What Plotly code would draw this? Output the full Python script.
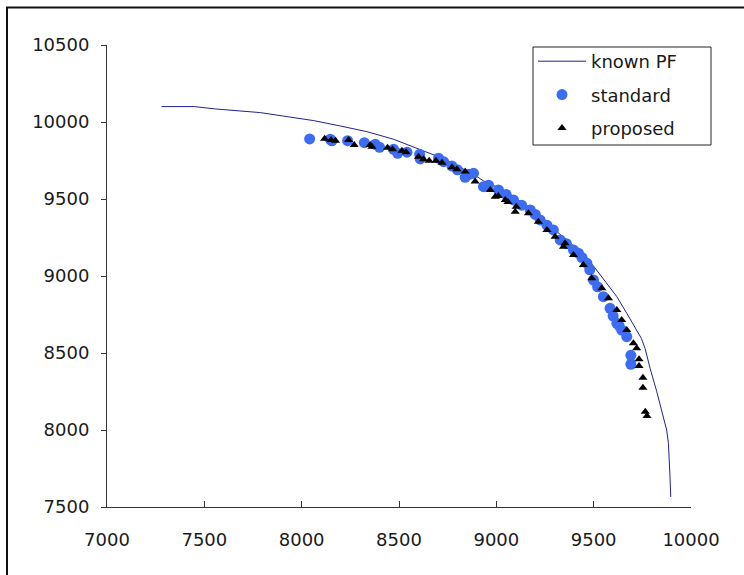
import plotly.graph_objects as go

# Known Pareto front (trade-off curve)
pf_x = [7280, 7450, 7554, 7650, 7788, 7925, 8062, 8199, 8336, 8472, 8609, 8746,
        8814, 8889, 8934, 9011, 9054, 9133, 9191, 9254, 9300, 9380, 9456, 9499,
        9567, 9619, 9670, 9721, 9745, 9764, 9790, 9824, 9858, 9875, 9884, 9889, 9892, 9896]
pf_y = [10100, 10100, 10085, 10075, 10061, 10035, 10009, 9974, 9937, 9888, 9823, 9753,
        9706, 9655, 9618, 9575, 9548, 9475, 9432, 9360, 9300, 9215, 9130, 9065,
        8955, 8866, 8758, 8649, 8595, 8530, 8400, 8250, 8086, 8000, 7914, 7805, 7700, 7565]

# Solutions found by the standard algorithm
std_x = [8041, 8147, 8155, 8236, 8322, 8378, 8400, 8472, 8493, 8541, 8606, 8609,
         8703, 8729, 8772, 8800, 8840, 8860, 8883, 8934, 8960, 9011, 9050, 9088,
         9130, 9174, 9200, 9225, 9260, 9293, 9328, 9360, 9396, 9422, 9440, 9465,
         9480, 9499, 9520, 9550, 9584, 9600, 9619, 9630, 9644, 9670, 9691, 9691]
std_y = [9890, 9888, 9878, 9879, 9866, 9855, 9836, 9823, 9797, 9804, 9790, 9760,
         9765, 9742, 9714, 9690, 9641, 9660, 9667, 9580, 9590, 9559, 9530, 9494,
         9460, 9429, 9400, 9364, 9330, 9299, 9234, 9210, 9169, 9148, 9120, 9083,
         9040, 8974, 8930, 8866, 8790, 8740, 8693, 8680, 8649, 8606, 8485, 8427]

# Solutions found by the proposed algorithm
prop_x = [8118, 8151, 8174, 8241, 8270, 8352, 8361, 8441, 8467, 8515, 8537, 8600,
          8626, 8655, 8690, 8721, 8772, 8798, 8840, 8891, 8969, 8994, 9010, 9046,
          9060, 9102, 9097, 9165, 9216, 9260, 9302, 9345, 9353, 9396, 9447, 9490,
          9542, 9576, 9619, 9644, 9670, 9704, 9721, 9733, 9733, 9753, 9753, 9765, 9774]
prop_y = [9892, 9883, 9879, 9883, 9851, 9851, 9840, 9833, 9823, 9814, 9804, 9775,
          9758, 9749, 9749, 9736, 9706, 9693, 9678, 9613, 9559, 9515, 9520, 9494,
          9480, 9450, 9418, 9407, 9353, 9299, 9255, 9190, 9212, 9137, 9072, 8985,
          8920, 8855, 8779, 8714, 8649, 8563, 8531, 8459, 8416, 8340, 8275, 8119, 8091]

x_ticks = [7000, 7500, 8000, 8500, 9000, 9500, 10000]
y_ticks = [7500, 8000, 8500, 9000, 9500, 10000, 10500]

FONT = "DejaVu Sans"

fig = go.Figure()
fig.add_trace(go.Scatter(
    x=pf_x, y=pf_y, mode="lines", name="known PF", legendgroup="a",
    line=dict(color="#22228e", width=1),
))
fig.add_trace(go.Scatter(
    x=std_x, y=std_y, mode="markers", name="standard", legendgroup="b",
    marker=dict(symbol="circle", size=11, color="#3b6cf2", line=dict(width=0)),
))
fig.add_trace(go.Scatter(
    x=prop_x, y=prop_y, mode="markers", name="proposed", legendgroup="c",
    marker=dict(symbol="triangle-up", size=8, color="#000000", line=dict(width=0)),
))

W, H = 744, 575
L, R, T, B = 107, 53, 45, 68
pw, ph = W - L - R, H - T - B

def px_to_paper_x(px):
    return (px - L) / pw

def px_to_paper_y(py):
    return (H - B - py) / ph

# outer chart frame (top and left edges visible)
fig.add_shape(type="rect", xref="paper", yref="paper",
              x0=px_to_paper_x(7), x1=px_to_paper_x(780),
              y0=px_to_paper_y(600), y1=px_to_paper_y(7.5),
              line=dict(color="#111111", width=2), fillcolor="rgba(0,0,0,0)")

# legend box
fig.add_shape(type="rect", xref="paper", yref="paper",
              x0=px_to_paper_x(533), x1=px_to_paper_x(711),
              y0=px_to_paper_y(145), y1=px_to_paper_y(47),
              line=dict(color="#222222", width=1), fillcolor="white", layer="below")

fig.update_layout(
    width=W, height=H,
    margin=dict(l=L, r=R, t=T, b=B),
    paper_bgcolor="white", plot_bgcolor="rgba(0,0,0,0)",
    font=dict(family=FONT, size=18, color="#1a1a1a"),
    legend=dict(
        x=px_to_paper_x(533), y=px_to_paper_y(43), xanchor="left", yanchor="top",
        bgcolor="rgba(0,0,0,0)", borderwidth=0,
        font=dict(family=FONT, size=18, color="#1a1a1a"),
        tracegroupgap=7, itemwidth=48,
    ),
    xaxis=dict(
        range=[7000, 10000], tickvals=x_ticks, ticktext=[str(v) for v in x_ticks],
        showgrid=False, zeroline=False, showline=True, linecolor="#333333", linewidth=1,
        ticks="inside", ticklen=6, tickcolor="#333333", ticklabelstandoff=16,
        tickfont=dict(family=FONT, size=18, color="#1a1a1a"),
    ),
    yaxis=dict(
        range=[7500, 10500], tickvals=y_ticks, ticktext=[str(v) for v in y_ticks],
        showgrid=False, zeroline=False, showline=True, linecolor="#333333", linewidth=1,
        ticks="outside", ticklen=5, tickcolor="#333333", ticklabelstandoff=8,
        tickfont=dict(family=FONT, size=18, color="#1a1a1a"),
    ),
)

fig.write_html("out.html")
